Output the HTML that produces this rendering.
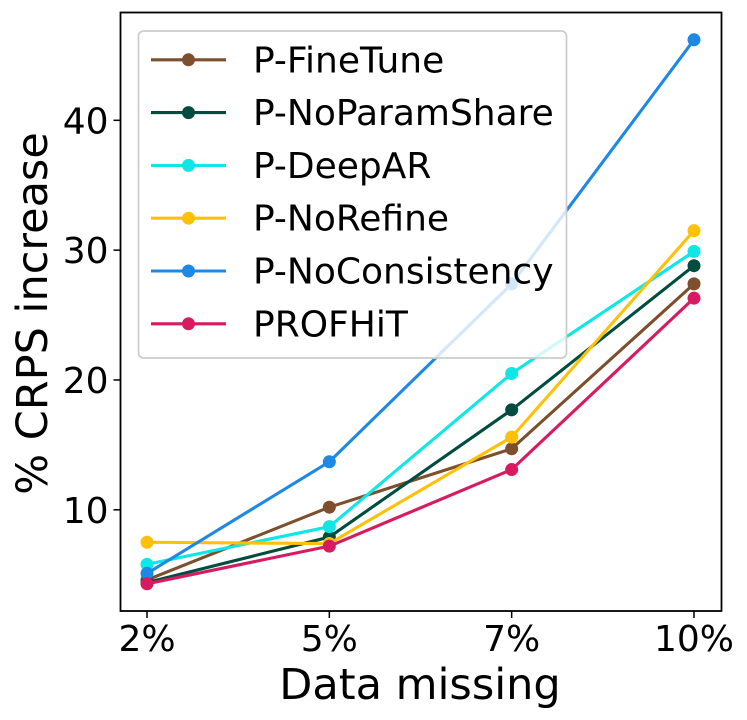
<!DOCTYPE html>
<html lang="en">
<head>
<meta charset="utf-8">
<title>CRPS increase vs data missing</title>
<style>
html,body{margin:0;padding:0;background:#fff;width:747px;height:720px;overflow:hidden}
svg{display:block}
text{font-family:"DejaVu Sans","Liberation Sans",sans-serif;fill:#000}
</style>
</head>
<body>
<svg id="chart" width="747" height="720" viewBox="0 0 747 720" xmlns="http://www.w3.org/2000/svg"></svg>
<script>
const categories = ['2%', '5%', '7%', '10%'];
const yTickValues = [10, 20, 30, 40];
const seriesNames = ['P-FineTune', 'P-NoParamShare', 'P-DeepAR', 'P-NoRefine', 'P-NoConsistency', 'PROFHiT'];
const seriesColors = ['#7d4f2c', '#004d40', '#0fe6e6', '#ffc107', '#1e88e5', '#d81b60'];
const fineTune = [4.6, 10.2, 14.7, 27.4];
const noParamShare = [4.4, 7.9, 17.7, 28.8];
const deepAR = [5.8, 8.7, 20.5, 29.9];
const noRefine = [7.5, 7.4, 15.6, 31.5];
const noConsistency = [5.1, 13.7, 27.4, 46.2];
const profhit = [4.3, 7.2, 13.1, 26.3];
const seriesValues = [fineTune, noParamShare, deepAR, noRefine, noConsistency, profhit];

const svg = document.getElementById('chart');
const NS = 'http://www.w3.org/2000/svg';
const plot = {left: 120.5, right: 721.5, top: 12.5, bottom: 611};

function xScale(i) {
  return 147 + i * (694 - 147) / (categories.length - 1);
}
function yScale(v) {
  return 509.8 - (v - 10) * (509.8 - 120.3) / 30;
}
function make(tag, attrs, parent) {
  const el = document.createElementNS(NS, tag);
  for (const k in attrs) el.setAttribute(k, attrs[k]);
  (parent || svg).appendChild(el);
  return el;
}
function slug(s) {
  return s.toLowerCase().replace(/[^a-z0-9]+/g, '-');
}

/* series */
seriesValues.forEach(function (vals, s) {
  const g = make('g', {});
  
  
  const line = make('polyline', {
    points: vals.map(function (v, i) { return xScale(i) + ',' + yScale(v); }).join(' '),
    fill: 'none', stroke: seriesColors[s], 'stroke-width': 3.1, 'stroke-linejoin': 'round'
  }, g);
  
  
  vals.forEach(function (v, i) {
    const pt = make('circle', {cx: xScale(i), cy: yScale(v), r: 6.5, fill: seriesColors[s]}, g);
    
    
  });
});

/* axes frame */
const frame = make('rect', {
  x: plot.left, y: plot.top, width: plot.right - plot.left, height: plot.bottom - plot.top,
  fill: 'none', stroke: '#000', 'stroke-width': 1.8
});



/* x ticks */
categories.forEach(function (c, i) {
  const x = xScale(i);
  const tick = make('line', {x1: x, x2: x, y1: plot.bottom, y2: plot.bottom + 7, stroke: '#000', 'stroke-width': 1.5});
  
  
  const label = make('text', {x: x, y: 651, 'text-anchor': 'middle', 'font-size': 36});
  label.textContent = c;
  
  
});

/* y ticks */
yTickValues.forEach(function (v) {
  const y = yScale(v);
  const tick = make('line', {x1: plot.left - 7, x2: plot.left, y1: y, y2: y, stroke: '#000', 'stroke-width': 1.5});
  
  
  const label = make('text', {x: 108.5, y: y + 13, 'text-anchor': 'end', 'font-size': 36});
  label.textContent = v;
  
  
});

/* axis titles */
const xTitle = make('text', {x: 420, y: 699, 'text-anchor': 'middle', 'font-size': 43});
xTitle.textContent = 'Data missing';



const yTitle = make('text', {x: 0, y: 0, 'text-anchor': 'middle', 'font-size': 43, transform: 'translate(47,313.5) rotate(-90)'});
yTitle.textContent = '% CRPS increase';



/* legend */
const legend = make('g', {});


const legendBox = make('rect', {
  x: 138.5, y: 31, width: 428, height: 327, rx: 5, ry: 5,
  fill: '#fff', 'fill-opacity': 0.8, stroke: '#ccc', 'stroke-width': 1.7
}, legend);


seriesNames.forEach(function (name, s) {
  const y = 59.8 + s * 52.8;
  const entry = make('g', {}, legend);
  
  
  make('line', {x1: 151, x2: 226, y1: y, y2: y, stroke: seriesColors[s], 'stroke-width': 3.1}, entry);
  make('circle', {cx: 188.5, cy: y, r: 6.5, fill: seriesColors[s]}, entry);
  const label = make('text', {x: 253, y: y + 12.5, 'font-size': 36}, entry);
  label.textContent = name;
  
  
});
</script>
</body>
</html>
